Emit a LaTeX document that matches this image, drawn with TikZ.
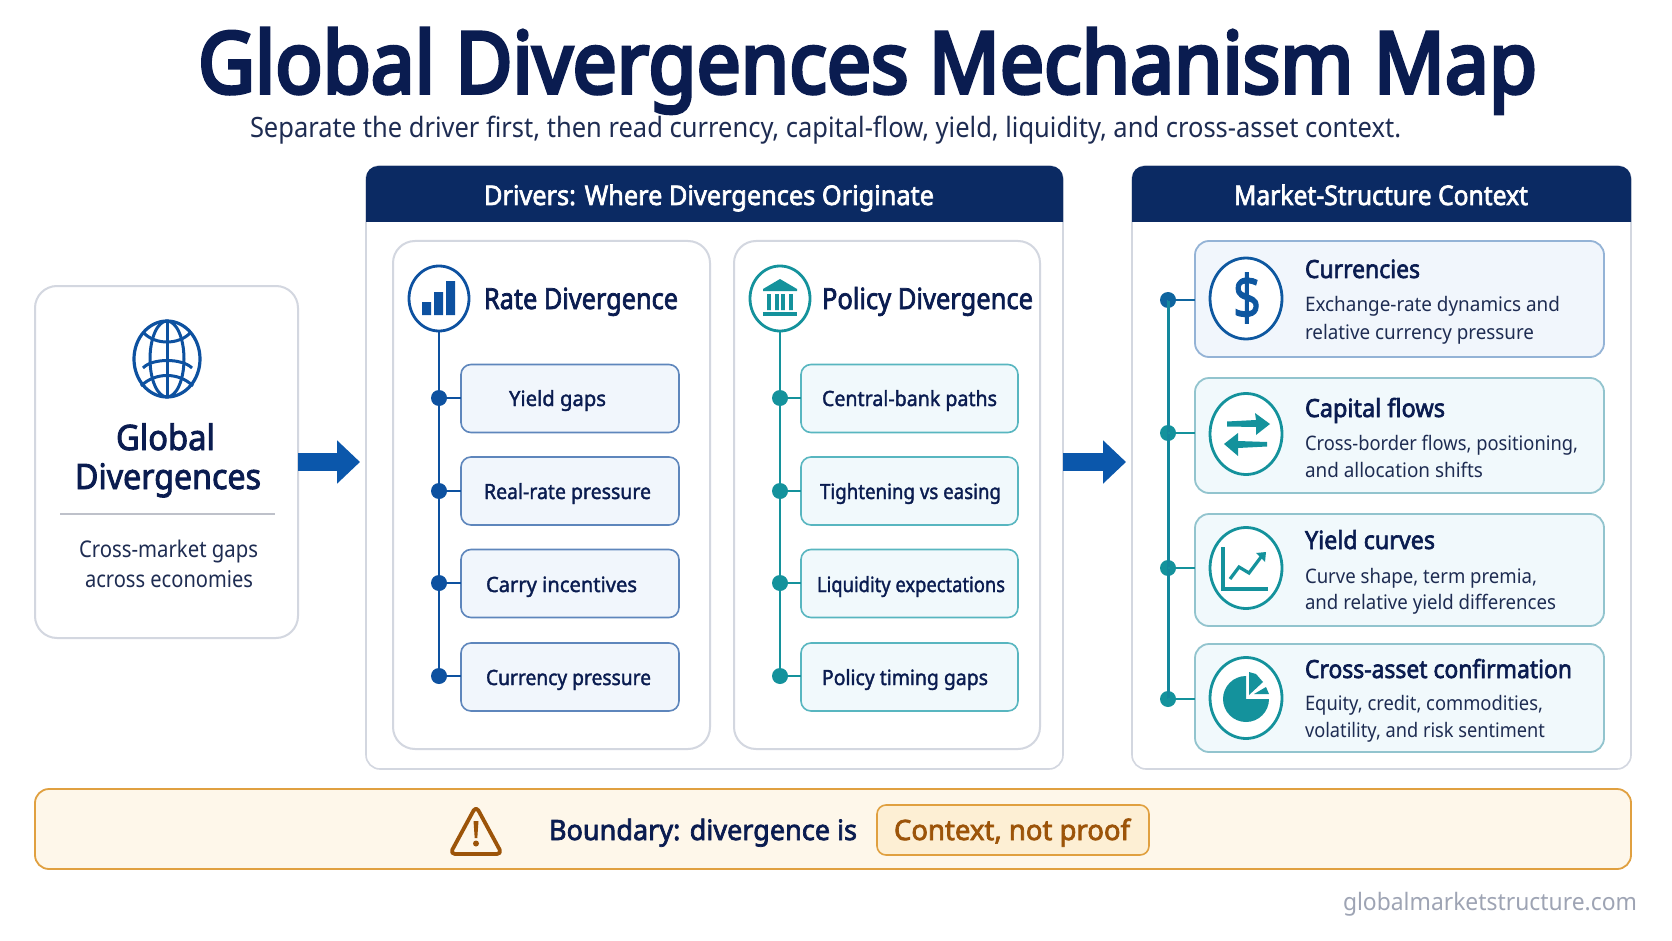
\documentclass[tikz,border=0pt]{standalone}
\usepackage{graphicx}
\usepackage{fontspec}
\setmainfont{Noto Sans}
\newfontfamily\titlef[FakeBold=4.5]{Noto Sans}
\newfontfamily\semib[FakeBold=2.6]{Noto Sans}
\newfontfamily\medf[FakeBold=1.7]{Noto Sans}
\usetikzlibrary{shapes.geometric,arrows.meta,calc}
\definecolor{navyc}{HTML}{0B2A63}
\definecolor{inkc}{HTML}{0A1C50}
\definecolor{bodyc}{HTML}{1E2C52}
\definecolor{bluec}{HTML}{0D51A0}
\definecolor{flowc}{HTML}{0B57AB}
\definecolor{tealc}{HTML}{14929C}
\definecolor{greyc}{HTML}{D3D7E0}
\definecolor{bluefill}{HTML}{F1F6FC}
\definecolor{tealfill}{HTML}{F1F9FC}
\definecolor{bluestroke}{HTML}{5E86BC}
\definecolor{tealstroke}{HTML}{58B6C0}
\definecolor{cblue}{HTML}{94B3D6}
\definecolor{cteal}{HTML}{92C4CE}
\definecolor{warnfill}{HTML}{FEF7EA}
\definecolor{warnstroke}{HTML}{E0A040}
\definecolor{pillfill}{HTML}{FDEFD4}
\definecolor{warnink}{HTML}{9C5409}
\definecolor{markc}{HTML}{9EA4B4}
\newcommand{\lbl}[6]{\node[txtlab] (#1) at (#2,#3) {\resizebox{#4pt}{\height}{#5 #6}};}
\newcommand{\fsz}[1]{\fontsize{#1}{#1}\selectfont}
\newcommand{\fTitle}{\titlef\fsz{85}\color{inkc}}
\newcommand{\fSub}{\fsz{28}\color{bodyc}}
\newcommand{\fHead}{\semib\fsz{27}\color{white}}
\newcommand{\fCard}{\semib\fsz{29}\color{inkc}}
\newcommand{\fItem}{\medf\fsz{21}\color{inkc}}
\newcommand{\fCtx}{\semib\fsz{25}\color{inkc}}
\newcommand{\fBody}{\fsz{20}\color{bodyc}}
\newcommand{\fMain}{\semib\fsz{35}\color{inkc}}
\newcommand{\fNote}{\fsz{23}\color{bodyc}}
\tikzset{
  txtlab/.style={anchor=base west,inner sep=0pt,outer sep=0pt},
  boxn/.style={rectangle,rounded corners=#1,inner sep=0pt,outer sep=0pt},
  panelbox/.style={boxn=14pt,draw=greyc,line width=1.6pt,fill=white},
  cardbox/.style={boxn=22pt,draw=greyc,line width=2pt,fill=white},
  itemb/.style={boxn=10pt,draw=bluestroke,line width=1.6pt,fill=bluefill,minimum width=218pt,minimum height=68pt},
  itemt/.style={boxn=10pt,draw=tealstroke,line width=1.6pt,fill=tealfill,minimum width=217pt,minimum height=68pt},
  ctxb/.style={boxn=14pt,draw=cblue,line width=1.8pt,fill=bluefill,minimum width=409pt},
  ctxt/.style={boxn=14pt,draw=cteal,line width=1.8pt,fill=tealfill,minimum width=409pt},
  ring/.style={ellipse,inner sep=0pt,outer sep=0pt,draw=#1,line width=2.8pt,fill=white},
  dot/.style={circle,fill=#1,inner sep=0pt,outer sep=0pt,minimum size=16pt},
  flow/.style={line width=18pt,draw=flowc,-{Triangle[length=23pt,width=42pt]},shorten >=6pt},
  stem/.style={line width=2.6pt,draw=#1},
}
\begin{document}
\begin{tikzpicture}[x=1pt,y=-1pt]
\useasboundingbox[fill=white] (0,0) rectangle (1672,941);
% title
\lbl{title}{198}{93}{1339}{\fTitle}{Global Divergences Mechanism Map}
\lbl{subtitle}{250}{138}{1151}{\fSub}{Separate the driver first, then read currency, capital-flow, yield, liquidity, and cross-asset context.}
% left box
\node[cardbox,minimum width=263pt,minimum height=352pt] (srcbox) at (166.5,462) {};
\draw[bluec,line width=3.2pt] (167,359) ellipse [x radius=33pt,y radius=38pt];
\draw[bluec,line width=3pt] (167,359) ellipse [x radius=17pt,y radius=38pt];
\draw[bluec,line width=3pt] (167,321) -- (167,397);
\draw[bluec,line width=3pt] (144,333) .. controls (155,345) and (179,345) .. (190,333);
\draw[bluec,line width=3pt] (143,368) .. controls (152,358) and (182,358) .. (192,368);
\draw[bluec,line width=3pt] (141,386) .. controls (155,372) and (179,372) .. (193,386);
\lbl{srca}{116}{450}{99}{\fMain}{Global}
\lbl{srcb}{75}{489}{186}{\fMain}{Divergences}
\draw[line width=2.2pt,draw=greyc!90!black] (60,514) -- (275,514);
\lbl{srcc}{79}{557}{179}{\fNote}{Cross-market gaps}
\lbl{srcd}{85}{587}{168}{\fNote}{across economies}
% panels
\node[panelbox,minimum width=697pt,minimum height=603pt] (drv) at (714.5,467.5) {};
\fill[navyc] (366,222) [rounded corners=12pt] -- (366,166) -- (1063,166) [sharp corners] -- (1063,222) -- cycle;
\lbl{drvh}{484}{205}{450}{\fHead}{Drivers: Where Divergences Originate}
\node[panelbox,minimum width=499pt,minimum height=603pt] (ctx) at (1381.5,467.5) {};
\fill[navyc] (1132,222) [rounded corners=12pt] -- (1132,166) -- (1631,166) [sharp corners] -- (1631,222) -- cycle;
\lbl{ctxh}{1234}{205}{294}{\fHead}{Market-Structure Context}
% flow arrows
\draw[flow] (srcbox.east) -- (srcbox.east -| drv.west);
\draw[flow] (srcbox.east -| drv.east) -- (srcbox.east -| ctx.west);
% cards
\node[cardbox,minimum width=317pt,minimum height=508pt] (ratecard) at (551.5,495) {};
\node[cardbox,minimum width=306pt,minimum height=508pt] (polcard) at (887,495) {};
\lbl{rateh}{484}{309}{194}{\fCard}{Rate Divergence}
\lbl{polh}{822}{309}{211}{\fCard}{Policy Divergence}
% rate column
\node[ring=bluec,minimum width=60pt,minimum height=65pt] (ratec) at (439,298.5) {};
\fill[bluec] (422,302) rectangle (431,315) (434,292) rectangle (443,315) (446,281) rectangle (455,315);
\node[dot=bluec] (rd1) at (439,398) {};
\node[dot=bluec] (rd2) at (439,491) {};
\node[dot=bluec] (rd3) at (439,583) {};
\node[dot=bluec] (rd4) at (439,676) {};
\draw[stem=bluec] (ratec.south) -- (rd4.center);
\node[itemb] (ri1) at (570,398.5) {};
\node[itemb] (ri2) at (570,491) {};
\node[itemb] (ri3) at (570,583.5) {};
\node[itemb] (ri4) at (570,677) {};
\foreach \n in {1,2,3,4} \draw[stem=bluec] (rd\n.center) -- (rd\n -| ri\n.west);
\lbl{rl1}{509}{406}{97}{\fItem}{Yield gaps}
\lbl{rl2}{484}{499}{167}{\fItem}{Real-rate pressure}
\lbl{rl3}{486}{592}{151}{\fItem}{Carry incentives}
\lbl{rl4}{486}{685}{165}{\fItem}{Currency pressure}
% policy column
\node[ring=tealc,minimum width=60pt,minimum height=65pt] (polc) at (780,298.5) {};
\fill[tealc] (780,279) -- (797,289) -- (797,291) -- (763,291) -- (763,289) -- cycle;
\fill[tealc] (767.2,294) rectangle (770.8,310) (775.2,294) rectangle (778.8,310) (781.2,294) rectangle (784.8,310) (789.2,294) rectangle (792.8,310);
\fill[tealc] (763,312) rectangle (797,316);
\node[dot=tealc] (pd1) at (780,398) {};
\node[dot=tealc] (pd2) at (780,491) {};
\node[dot=tealc] (pd3) at (780,583) {};
\node[dot=tealc] (pd4) at (780,676) {};
\draw[stem=tealc] (polc.south) -- (pd4.center);
\node[itemt] (pi1) at (909.5,398.5) {};
\node[itemt] (pi2) at (909.5,491) {};
\node[itemt] (pi3) at (909.5,583.5) {};
\node[itemt] (pi4) at (909.5,677) {};
\foreach \n in {1,2,3,4} \draw[stem=tealc] (pd\n.center) -- (pd\n -| pi\n.west);
\lbl{pl1}{822}{406}{175}{\fItem}{Central-bank paths}
\lbl{pl2}{820}{499}{181}{\fItem}{Tightening vs easing}
\lbl{pl3}{817}{592}{188}{\fItem}{Liquidity expectations}
\lbl{pl4}{822}{685}{166}{\fItem}{Policy timing gaps}
% context column
\node[ctxb,minimum height=116pt] (c1) at (1399.5,299) {};
\node[ctxt,minimum height=115pt] (c2) at (1399.5,435.5) {};
\node[ctxt,minimum height=112pt] (c3) at (1399.5,570) {};
\node[ctxt,minimum height=108pt] (c4) at (1399.5,698) {};
\node[dot=bluec!70!tealc] (cd1) at (1168,300) {};
\node[dot=tealc] (cd2) at (1168,433) {};
\node[dot=tealc] (cd3) at (1168,568) {};
\node[dot=tealc] (cd4) at (1168,699) {};
\draw[stem=tealc!85!bluec,line width=3pt] (cd1.center) -- (cd4.center);
\draw[stem=bluec!70!tealc] (cd1.center) -- (cd1 -| c1.west);
\foreach \n in {2,3,4} \draw[stem=tealc] (cd\n.center) -- (cd\n -| c\n.west);
\node[ring=bluec!90!tealc,minimum width=72pt,minimum height=81pt] (ci1) at (1246,298.5) {};
\node[ring=tealc,minimum width=72pt,minimum height=81pt] (ci2) at (1246,434) {};
\node[ring=tealc,minimum width=72pt,minimum height=81pt] (ci3) at (1246,568) {};
\node[ring=tealc,minimum width=72pt,minimum height=81pt] (ci4) at (1246,698) {};
\node[inner sep=0pt] (dollar) at (1247,298) {\resizebox{28pt}{\height}{\medf\fsz{62}\color{bluec!90!tealc}\$}};
% exchange arrows
\fill[tealc] (1227,421.5) -- (1256,420) -- (1255,413) -- (1270,424) -- (1256,435) -- (1256,427) -- (1227,426.5) -- cycle;
\fill[tealc] (1267,442) -- (1238,441) -- (1238,433) -- (1224,444) -- (1238,456) -- (1238,448) -- (1267,446.5) -- cycle;
% chart icon
\draw[tealc,line width=3.4pt] (1223,547) -- (1223,589) -- (1268,589);
\draw[tealc,line width=3.2pt] (1230,579) -- (1239,567) -- (1249,573) -- (1261,557);
\fill[tealc] (1256,553) -- (1266,552) -- (1265,562) -- cycle;
% pie icon
\fill[tealc] (1246,699) -- (1246,676) arc (90:360:23pt) -- cycle;
\fill[tealc] (1249,695) -- (1249,672) -- (1256,674) -- (1263,682) -- cycle;
\fill[tealc] (1254,694) -- (1266,687) -- (1269,694) -- cycle;
% context text
\lbl{ct1}{1305}{278}{115}{\fCtx}{Currencies}
\lbl{cb1a}{1305}{311}{255}{\fBody}{Exchange-rate dynamics and}
\lbl{cb1b}{1305}{339}{229}{\fBody}{relative currency pressure}
\lbl{ct2}{1305}{417}{140}{\fCtx}{Capital flows}
\lbl{cb2a}{1305}{450}{273}{\fBody}{Cross-border flows, positioning,}
\lbl{cb2b}{1305}{477}{178}{\fBody}{and allocation shifts}
\lbl{ct3}{1305}{549}{130}{\fCtx}{Yield curves}
\lbl{cb3a}{1305}{583}{232}{\fBody}{Curve shape, term premia,}
\lbl{cb3b}{1305}{609}{251}{\fBody}{and relative yield differences}
\lbl{ct4}{1305}{678}{267}{\fCtx}{Cross-asset confirmation}
\lbl{cb4a}{1305}{710}{238}{\fBody}{Equity, credit, commodities,}
\lbl{cb4b}{1305}{737}{240}{\fBody}{volatility, and risk sentiment}
% boundary
\node[boxn=14pt,draw=warnstroke,line width=1.8pt,fill=warnfill,minimum width=1596pt,minimum height=80pt] (bar) at (833,829) {};
\draw[warnink,line width=3.8pt,rounded corners=5pt,line join=round] (476,806) -- (502,854) -- (450,854) -- cycle;
\fill[warnink] (473.5,821) -- (478.5,821) -- (477.3,838) -- (474.7,838) -- cycle;
\fill[warnink] (476,843.5) circle [radius=3pt];
\lbl{barl}{549}{840}{308}{\semib\fsz{28}\color{inkc}}{Boundary: divergence is}
\node[boxn=9pt,draw=warnstroke,line width=1.6pt,fill=pillfill,minimum width=272pt,minimum height=50pt] (pill) at (1013,830) {};
\lbl{pillt}{894}{840}{236}{\semib\fsz{28}\color{warnink}}{Context, not proof}
\lbl{wm}{1343}{910}{294}{\fsz{24}\color{markc}}{globalmarketstructure.com}
\end{tikzpicture}
\end{document}
